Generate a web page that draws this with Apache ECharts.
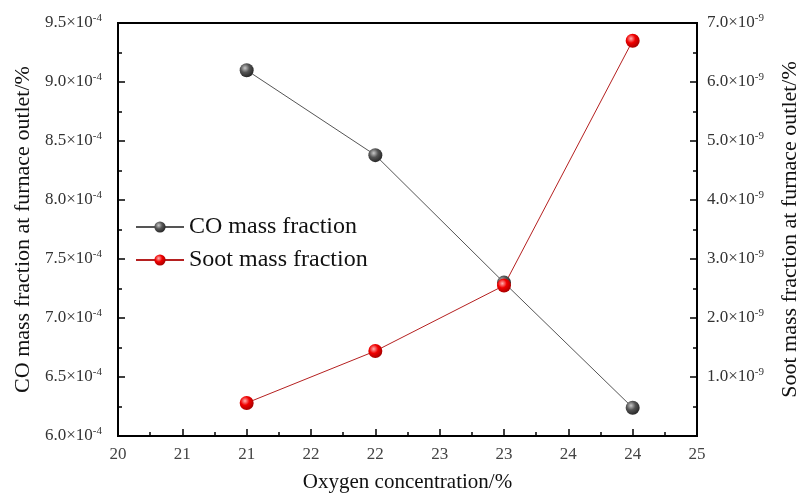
<!DOCTYPE html>
<html>
<head>
<meta charset="utf-8">
<script src="https://cdn.jsdelivr.net/npm/echarts@6/dist/echarts.min.js"></script>
<style>html,body{margin:0;padding:0;background:#fff}#c{width:799px;height:496px}</style>
</head>
<body>
<div id="c"></div>
<script>
// Oxygen concentration (%)
var oxygen = [21, 22, 23, 24];
// CO mass fraction, in units of 1e-4
var coValues = [9.10, 8.38, 7.30, 6.24];
// Soot mass fraction, in units of 1e-9
var sootValues = [0.56, 1.44, 2.55, 6.70];
var seriesNames = ['CO mass fraction', 'Soot mass fraction'];
var xTitle = 'Oxygen concentration/%';
var leftTitle = 'CO mass fraction at furnace outlet/%';
var rightTitle = 'Soot mass fraction at furnace outlet/%';

var FONT = '"Liberation Serif", "Times New Roman", serif';
function pairs(xs, ys){ return xs.map(function(x,i){ return [x, ys[i]]; }); }
function sci(exp){
  return function(v){ return '{b|' + v.toFixed(1) + '×10}{s|' + exp + '}'; };
}
var richLab = {
  b: {fontFamily: FONT, fontSize: 17, color: '#333', lineHeight: 20},
  s: {fontFamily: FONT, fontSize: 11, color: '#333', verticalAlign: 'top', lineHeight: 20, padding: [0,0,9,0]}
};
function ball(c0, c1, c2){
  return {type:'radial', x:0.38, y:0.35, r:0.7, colorStops:[
    {offset:0, color:c0},{offset:0.45, color:c1},{offset:1, color:c2}]};
}

var chart = echarts.init(document.getElementById('c'), null, {renderer:'canvas'});
chart.setOption({
  animation: false,
  backgroundColor: '#fff',
  grid: {left: 118, right: 102, top: 23, bottom: 60, outerBoundsMode: 'none', containLabel: false,
    show: true, borderColor: '#000', borderWidth: 2, backgroundColor: 'transparent'},
  legend: {
    orient: 'vertical', left: 130, top: 210, itemWidth: 48, itemHeight: 14, itemGap: 9,
    textStyle: {fontFamily: FONT, fontSize: 24, color: '#111'},
    data: seriesNames
  },
  xAxis: {
    type: 'value', min: 20, max: 24.5, interval: 0.5,
    name: xTitle, nameLocation: 'middle', nameGap: 36,
    nameTextStyle: {fontFamily: FONT, fontSize: 21, color: '#111'},
    axisLine: {show: true, lineStyle: {color: '#000', width: 2}},
    axisTick: {show: true, inside: true, length: 7, lineStyle: {color: '#000', width: 1.5}},
    minorTick: {show: true, splitNumber: 2, length: 4, lineStyle: {color: '#000', width: 1.5}},
    splitLine: {show: false},
    axisLabel: {fontFamily: FONT, fontSize: 17, color: '#444', margin: 10,
      formatter: function(v){ return String(Math.round(v)); }}
  },
  yAxis: [{
    type: 'value', position: 'left', min: 6.0, max: 9.5, interval: 0.5,
    name: leftTitle, nameLocation: 'middle', nameGap: 82, nameRotate: 90,
    nameTextStyle: {fontFamily: FONT, fontSize: 22, color: '#111'},
    axisLine: {show: true, lineStyle: {color: '#000', width: 2}},
    axisTick: {show: true, inside: true, length: 7, lineStyle: {color: '#000', width: 1.5}},
    minorTick: {show: true, splitNumber: 2, length: 4, lineStyle: {color: '#000', width: 1.5}},
    splitLine: {show: false},
    axisLabel: {margin: 16, formatter: sci('-4'), rich: richLab}
  }, {
    type: 'value', position: 'right', min: 0, max: 7, interval: 1,
    name: rightTitle, nameLocation: 'middle', nameGap: 82, nameRotate: 90,
    nameTextStyle: {fontFamily: FONT, fontSize: 22, color: '#111'},
    axisLine: {show: true, lineStyle: {color: '#000', width: 2}},
    axisTick: {show: true, inside: true, length: 7, lineStyle: {color: '#000', width: 1.5}},
    minorTick: {show: true, splitNumber: 2, length: 4, lineStyle: {color: '#000', width: 1.5}},
    splitLine: {show: false},
    axisLabel: {margin: 10, showMinLabel: false, formatter: sci('-9'), rich: richLab}
  }],
  series: [{
    name: seriesNames[0], type: 'line', yAxisIndex: 0,
    data: pairs(oxygen, coValues),
    symbol: 'circle', symbolSize: 14,
    lineStyle: {color: '#555', width: 1},
    itemStyle: {color: ball('#c8c8c8', '#555555', '#222222'), borderWidth: 0}
  }, {
    name: seriesNames[1], type: 'line', yAxisIndex: 1,
    data: pairs(oxygen, sootValues),
    symbol: 'circle', symbolSize: 14,
    lineStyle: {color: '#b52020', width: 1},
    itemStyle: {color: ball('#ffb0b0', '#f00000', '#a00000'), borderWidth: 0}
  }]
});
</script>
</body>
</html>
